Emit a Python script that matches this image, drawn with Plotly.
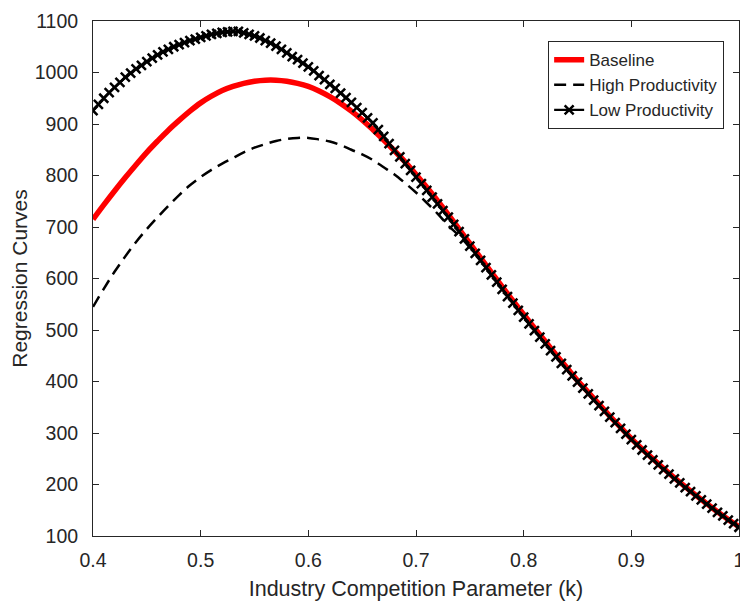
import plotly.graph_objects as go

# ---- data ----
k_grid = [round(0.40 + 0.01 * i, 2) for i in range(61)]
k_fine = [round(0.400 + 0.005 * i, 3) for i in range(121)]

baseline = [715, 743, 770, 796, 821, 845, 867, 888, 907, 925,
            941, 954, 965, 973, 979, 983, 985, 985, 983, 979,
            973, 964, 953, 940, 925, 908, 889, 869, 848, 826,
            802, 777, 751, 724, 696, 668, 640, 612, 584, 557,
            530, 504, 478, 452, 427, 402, 379, 356, 333, 311,
            289, 269, 250, 231, 213, 196, 179, 163, 147, 132,
            118]

high_prod = [545, 580, 613, 643, 671, 696, 719, 741, 762, 781,
             797, 811, 823, 834, 845, 854, 861, 867, 871, 873,
             873, 870, 866, 859, 850, 841, 830, 816, 802, 785,
             767, 747, 726, 703, 683, 660, 634, 607, 580, 553,
             526, 500, 474, 449, 424, 400, 377, 354, 331, 309,
             288, 268, 249, 230, 212, 195, 178, 162, 146, 131,
             117]

low_prod = [926, 938, 950, 961, 971, 981, 991, 999, 1007, 1014,
            1021, 1028, 1034, 1040, 1045, 1050, 1054, 1058, 1062, 1065,
            1068, 1071, 1074, 1076, 1078, 1079, 1080, 1080, 1077, 1074,
            1071, 1067, 1062, 1057, 1051, 1045, 1038, 1031, 1025, 1018,
            1011, 1003, 994, 986, 977, 969, 960, 951, 942, 932,
            922, 912, 902, 889, 876, 862, 849, 836, 823, 810,
            797, 784, 771, 758, 745, 732, 719, 705, 691, 677,
            663, 649, 635, 621, 607, 593, 579, 565, 552, 538,
            525, 512, 499, 486, 473, 460, 448, 435, 423, 411,
            399, 387, 376, 364, 353, 342, 331, 320, 309, 298,
            287, 277, 267, 257, 248, 238, 229, 220, 211, 203,
            194, 186, 178, 170, 162, 154, 146, 139, 131, 124,
            117]

x_ticks = [0.4, 0.5, 0.6, 0.7, 0.8, 0.9, 1.0]
x_tick_text = ["0.4", "0.5", "0.6", "0.7", "0.8", "0.9", "1"]
y_ticks = [100, 200, 300, 400, 500, 600, 700, 800, 900, 1000, 1100]

FONT = "Liberation Sans, Arial, sans-serif"
AX = "#262626"

fig = go.Figure()
fig.add_trace(go.Scatter(x=k_grid, y=baseline, mode="lines", name="Baseline",
                         line=dict(color="#ff0000", width=5.5, shape="spline")))
fig.add_trace(go.Scatter(x=k_grid, y=high_prod, mode="lines", name="High Productivity",
                         line=dict(color="#000000", width=2.5, dash="12px,7px", shape="spline")))
fig.add_trace(go.Scatter(x=k_fine, y=low_prod, mode="lines+markers", name="Low Productivity",
                         line=dict(color="#000000", width=2.3),
                         marker=dict(symbol="x-thin", size=9, color="#000000",
                                     line=dict(width=2.5, color="#000000"))))

axis_common = dict(showline=True, linecolor=AX, linewidth=1, mirror="ticks",
                   ticks="inside", ticklen=6, tickcolor=AX, tickwidth=1,
                   showgrid=False, zeroline=False,
                   tickfont=dict(family=FONT, size=19.5, color=AX))

fig.update_xaxes(range=[0.4, 1.0], tickvals=x_ticks, ticktext=x_tick_text,
                 title=dict(text="Industry Competition Parameter (k)",
                            font=dict(family=FONT, size=21.5, color=AX), standoff=11),
                 ticklabelstandoff=7, **axis_common)
fig.update_yaxes(range=[100, 1100], tickvals=y_ticks, tickformat="d",
                 title=dict(text="Regression Curves",
                            font=dict(family=FONT, size=21, color=AX), standoff=4),
                 ticklabelstandoff=10, **axis_common)

# page body has an 8px margin; visible area ends near x=740, keep the frame inside it
fig.update_layout(
    width=740, height=593,
    margin=dict(l=84.5, r=9, t=13, b=64.5, autoexpand=False),
    plot_bgcolor="white", paper_bgcolor="white",
    font=dict(family=FONT, color=AX),
    legend=dict(x=0.977, y=0.961, xanchor="right", yanchor="top",
                bgcolor="white", bordercolor=AX, borderwidth=1,
                font=dict(family=FONT, size=17, color=AX),
                tracegroupgap=0),
    showlegend=True,
)

fig.write_html("out.html")
